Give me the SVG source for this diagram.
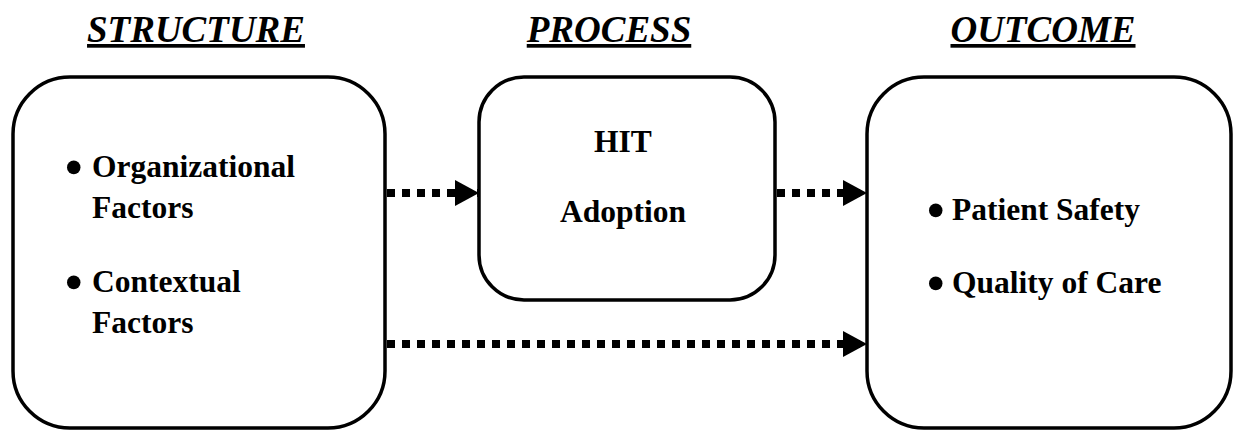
<svg xmlns="http://www.w3.org/2000/svg" width="1233" height="430" viewBox="0 0 1233 430">
  <style>
    .box { fill: #fff; stroke: #000; stroke-width: 3.5; }
    .head { font-family: "Liberation Serif", "Times New Roman", serif; font-weight: bold; font-style: italic; font-size: 37px; fill: #000; text-decoration: underline; }
    .body { font-family: "Liberation Serif", "Times New Roman", serif; font-weight: bold; font-size: 31.5px; fill: #000; }
    .dot { font-size: 50px; }
    .flow { fill: none; stroke: #000; stroke-width: 8; stroke-dasharray: 8 7; }
  </style>
  <defs>
    <marker id="tip" markerUnits="userSpaceOnUse" markerWidth="24" markerHeight="26" refX="24" refY="13" orient="auto">
      <path d="M0,0 L24,13 L0,26 Z" fill="#000"/>
    </marker>
  </defs>

  <rect width="1233" height="430" fill="#fff"/>

  <!-- column headings -->
  <g id="headings">
    <text class="head" x="196" y="42" text-anchor="middle">STRUCTURE</text>
    <text class="head" x="609" y="42" text-anchor="middle">PROCESS</text>
    <text class="head" x="1043" y="42" text-anchor="middle">OUTCOME</text>
  </g>

  <!-- connectors -->
  <g id="connectors">
    <path class="flow" d="M387,193 H479" marker-end="url(#tip)"/>
    <path class="flow" d="M777,193 H867" marker-end="url(#tip)"/>
    <path class="flow" d="M387,344 H867" marker-end="url(#tip)"/>
  </g>

  <g id="structure">
    <rect class="box" x="13" y="77" width="372" height="351" rx="57" ry="57"/>
    <text class="body" x="65" y="177"><tspan class="dot" dy="7">•</tspan><tspan x="92" dy="-7">Organizational</tspan></text>
    <text class="body" x="92" y="218">Factors</text>
    <text class="body" x="65" y="292"><tspan class="dot" dy="7">•</tspan><tspan x="92" dy="-7">Contextual</tspan></text>
    <text class="body" x="92" y="333">Factors</text>
  </g>

  <g id="process">
    <rect class="box" x="479" y="77" width="296" height="223" rx="45" ry="45"/>
    <text class="body" x="623" y="152" text-anchor="middle">HIT</text>
    <text class="body" x="623" y="222" text-anchor="middle">Adoption</text>
  </g>

  <g id="outcome">
    <rect class="box" x="867" y="77" width="364" height="351" rx="57" ry="57"/>
    <text class="body" x="927" y="220"><tspan class="dot" dy="7">•</tspan><tspan x="952" dy="-7">Patient Safety</tspan></text>
    <text class="body" x="927" y="293"><tspan class="dot" dy="7">•</tspan><tspan x="952" dy="-7">Quality of Care</tspan></text>
  </g>
</svg>
